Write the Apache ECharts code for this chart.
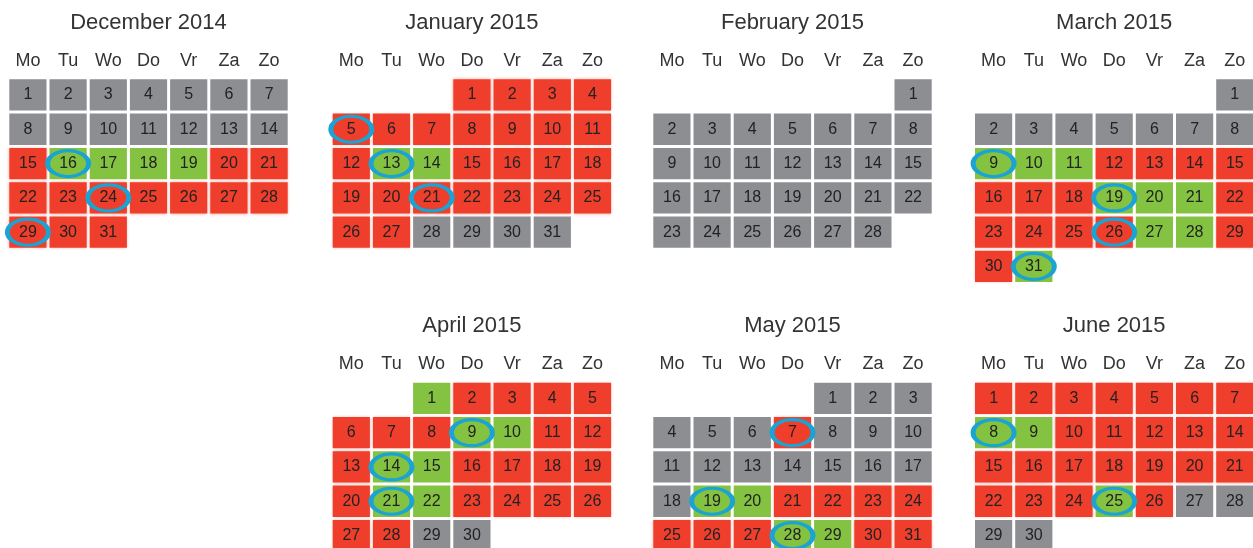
<!DOCTYPE html>
<html>
<head>
<meta charset="utf-8">
<script src="https://cdn.jsdelivr.net/npm/echarts@6/dist/echarts.min.js"></script>
<style>html,body{margin:0;padding:0;background:#fff}#c{width:1253px;height:548px}</style>
</head>
<body>
<div id="c"></div>
<script>
// Status codes per day: 0 = grey, 1 = red, 2 = green
const months = ['2014-12', '2015-01', '2015-02', '2015-03', '2015-04', '2015-05', '2015-06'];
const monthTitles = ['December 2014', 'January 2015', 'February 2015', 'March 2015', 'April 2015', 'May 2015', 'June 2015'];
const dayNames = ['Zo', 'Mo', 'Tu', 'Wo', 'Do', 'Vr', 'Za'];

const dec2014 = [0,0,0,0,0,0,0, 0,0,0,0,0,0,0, 1,2,2,2,2,1,1, 1,1,1,1,1,1,1, 1,1,1];
const jan2015 = [1,1,1,1, 1,1,1,1,1,1,1, 1,2,2,1,1,1,1, 1,1,1,1,1,1,1, 1,1,0,0,0,0];
const feb2015 = [0, 0,0,0,0,0,0,0, 0,0,0,0,0,0,0, 0,0,0,0,0,0,0, 0,0,0,0,0,0];
const mar2015 = [0, 0,0,0,0,0,0,0, 2,2,2,1,1,1,1, 1,1,1,2,2,2,1, 1,1,1,1,2,2,1, 1,2];
const apr2015 = [2,1,1,1,1, 1,1,1,2,2,1,1, 1,2,2,1,1,1,1, 1,2,2,1,1,1,1, 1,1,0,0];
const may2015 = [0,0,0, 0,0,0,1,0,0,0, 0,0,0,0,0,0,0, 0,2,2,1,1,1,1, 1,1,1,2,2,1,1];
const jun2015 = [1,1,1,1,1,1,1, 2,2,1,1,1,1,1, 1,1,1,1,1,1,1, 1,1,1,2,1,0,0, 0,0];
const statusData = [dec2014, jan2015, feb2015, mar2015, apr2015, may2015, jun2015];

// circled days per month
const circled = [[16, 24, 29], [5, 13, 21], [], [9, 19, 26, 31], [9, 14, 21], [7, 19, 28], [8, 25]];

const statusColors = ['#8d8e91', '#ef3e2b', '#84c341'];
const ringColor = '#1aa3d3';

// layout (calendar rect left/top)
const calLeft = [7.8, 331.2, 651.8, 973.5, 331.2, 651.8, 973.5];
const calTop = [77.8, 77.8, 77.8, 77.8, 381.2, 381.2, 381.2];
const cellW = 40.2, cellH = 34.3;
const FONT = 'Liberation Sans, Arial, sans-serif';

function pad(n) { return n < 10 ? '0' + n : '' + n; }

const calendars = [], series = [], titles = [];
months.forEach((m, i) => {
  const days = statusData[i];
  calendars.push({
    orient: 'vertical',
    range: m,
    left: calLeft[i],
    top: calTop[i],
    cellSize: [cellW, cellH],
    splitLine: { show: false },
    itemStyle: { color: '#fff', borderColor: '#fff', borderWidth: 3 },
    dayLabel: {
      firstDay: 1, nameMap: dayNames, position: 'start', margin: 8,
      color: '#333', fontSize: 18, fontFamily: FONT
    },
    monthLabel: { show: false },
    yearLabel: { show: false }
  });
  titles.push({
    text: monthTitles[i],
    left: calLeft[i] + cellW * 3.5,
    top: calTop[i] - 66,
    padding: 0,
    textAlign: 'center',
    textStyle: { fontSize: 22, fontWeight: 'normal', color: '#333', fontFamily: FONT }
  });
  const data = days.map((s, d) => {
    const item = { value: [m + '-' + pad(d + 1), s] };
    if (s === 1) item.itemStyle = { shadowBlur: 3, shadowColor: 'rgba(239,62,43,0.45)' };
    return item;
  });
  series.push({
    type: 'heatmap',
    coordinateSystem: 'calendar',
    calendarIndex: i,
    data: data,
    itemStyle: { borderWidth: 0 },
    label: {
      show: true,
      formatter: p => String(parseInt(p.value[0].split('-')[2], 10)),
      color: '#222', fontSize: 16, fontFamily: FONT
    },
    emphasis: { disabled: true },
    silent: true
  });
});
// rings
months.forEach((m, i) => {
  series.push({
    type: 'scatter',
    coordinateSystem: 'calendar',
    calendarIndex: i,
    symbol: 'circle',
    symbolSize: [41, 26],
    data: circled[i].map(d => [m + '-' + pad(d), 1]),
    itemStyle: { color: 'rgba(0,0,0,0)', borderColor: ringColor, borderWidth: 4, opacity: 1 },
    z: 5,
    silent: true
  });
});

const chart = echarts.init(document.getElementById('c'));
chart.setOption({
  animation: false,
  backgroundColor: '#fff',
  title: titles,
  calendar: calendars,
  visualMap: {
    type: 'piecewise',
    show: false,
    dimension: 1,
    seriesIndex: [0, 1, 2, 3, 4, 5, 6],
    pieces: [
      { value: 0, color: statusColors[0] },
      { value: 1, color: statusColors[1] },
      { value: 2, color: statusColors[2] }
    ]
  },
  series: series
});
</script>
</body>
</html>
